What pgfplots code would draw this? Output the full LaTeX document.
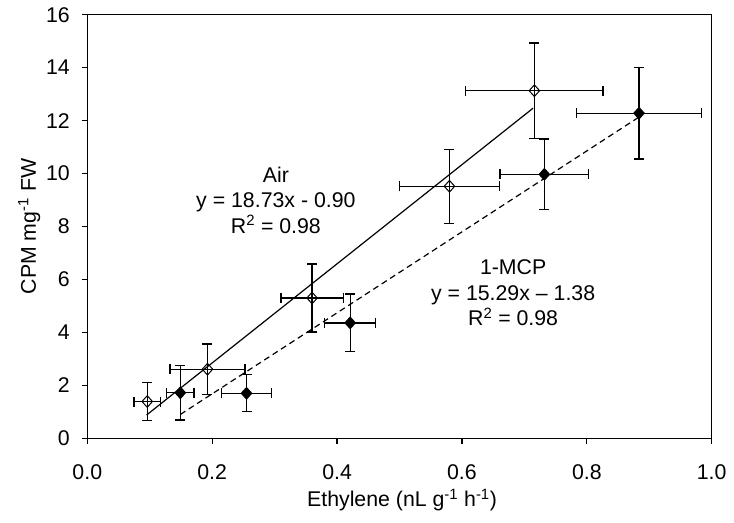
\documentclass[border=0pt]{standalone}
\usepackage{fontspec}
\setmainfont{Liberation Sans}
\usepackage{pgfplots}
\pgfplotsset{compat=1.18}
\newcommand\chfont{\fontsize{21.3bp}{25.5bp}\selectfont}

\pgfplotstableread{
x      y     ex     ey
0.096  1.39  0.021  0.73
0.1925 2.61  0.060  0.95
0.3600 5.30  0.050  1.28
0.5800 9.52  0.080  1.40
0.7160 13.13 0.110  1.80
}\airdata

\pgfplotstableread{
x      y     ex     ey
0.149  1.72  0.022  1.03
0.255  1.70  0.040  0.70
0.421  4.36  0.041  1.09
0.732  9.97  0.071  1.34
0.8836 12.28 0.100  1.73
}\mcpdata

\begin{document}
\begin{tikzpicture}
\begin{axis}[
    name=main,
    scale only axis,
    width=624.4bp, height=423.6bp,
    xmin=0, xmax=1, ymin=0, ymax=16,
    xtick={0,0.2,...,1.0},
    ytick={0,2,...,16},
    xtick pos=left, ytick pos=left,
    tick align=outside,
    major tick length=5.6bp,
    axis line style={line width=1.2bp},
    tick style={line width=1.2bp, black},
    /pgf/number format/assume math mode=true,
    xticklabel={\pgfmathprintnumber[fixed,fixed zerofill,precision=1]{\tick}},
    tick label style={font=\chfont},
    xticklabel style={inner sep=0pt, anchor=north, yshift=-21bp},
    yticklabel style={inner sep=0pt, anchor=east, xshift=-11.7bp},
    label style={font=\chfont},
    xlabel={Ethylene (nL g\textsuperscript{-1} h\textsuperscript{-1})},
    ylabel={CPM mg\textsuperscript{-1} FW},
    xlabel style={at={(axis description cs:0.504,-0.146)}, anchor=center},
    ylabel style={at={(axis description cs:-0.093,0.5)}, anchor=center, rotate=0},
    clip=false,
]
% regression lines (end points)
\addplot[black, line width=1.2bp] coordinates {(0.095,0.88) (0.714,12.47)};
\addplot[black, line width=1.2bp, dash pattern=on 6bp off 4bp] coordinates {(0.149,0.90) (0.884,12.14)};

% Air
\addplot[only marks, mark=diamond, mark size=5.8bp,
    mark options={draw=black, fill=none, line width=1bp, xscale=1.2},
    error bars/.cd, x dir=both, x explicit, y dir=both, y explicit,
    error bar style={line width=1.3bp, black},
    error mark options={rotate=90, mark size=5bp, line width=1.3bp, black}]
    table[x=x, y=y, x error=ex, y error=ey] {\airdata};

% 1-MCP
\addplot[only marks, mark=diamond*, mark size=5.8bp,
    mark options={draw=black, fill=black, line width=1bp, xscale=1.2},
    error bars/.cd, x dir=both, x explicit, y dir=both, y explicit,
    error bar style={line width=1.3bp, black},
    error mark options={rotate=90, mark size=5bp, line width=1.3bp, black}]
    table[x=x, y=y, x error=ex, y error=ey] {\mcpdata};

\node[font=\chfont, align=center] at (axis cs:0.302,9.0)
    {Air\\y = 18.73x - 0.90\\R\textsuperscript{2} = 0.98};
\node[font=\chfont, align=center] at (axis cs:0.682,5.49)
    {1-MCP\\y = 15.29x -- 1.38\\R\textsuperscript{2} = 0.98};

\coordinate (sw) at (rel axis cs:0,0);
\coordinate (ne) at (rel axis cs:1,1);
\end{axis}
\path (sw) ++(-87.3bp,-84.7bp) coordinate (bbl);
\path (ne) ++(22.3bp,14.7bp) coordinate (bbr);
\path (bbl) rectangle (bbr);
\end{tikzpicture}
\end{document}
